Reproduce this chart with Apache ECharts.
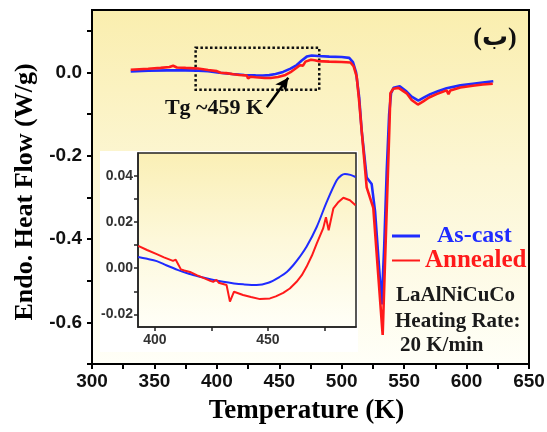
<!DOCTYPE html>
<html><head><meta charset="utf-8">
<script src="https://cdn.jsdelivr.net/npm/echarts@6/dist/echarts.min.js"></script>
<style>html,body{margin:0;padding:0;background:#fff}#c{width:547px;height:432px}</style>
</head><body><div id="c"></div>
<script>
// ---------- main DSC curves (Temperature K, heat flow W/g) ----------
const tempAsCast = [331,345,360,375,385,393,402,412,422,431,437,442,447,453,459,464,468,472,476,481,490,500,506,509,511.5,514,516,520,524,526.7,529.5,532,534,536,538,539.5,541.5,546.5,552,556,561.4,566,571,577,584,595,605,613,621.4];
const heatAsCast = [0.0025,0.004,0.005,0.005,0.0045,0.003,-0.0008,-0.0037,-0.0059,-0.0070,-0.0073,-0.0063,-0.0037,0.0013,0.0093,0.0179,0.0287,0.0381,0.0409,0.0396,0.038,0.037,0.035,0.025,0.0,-0.06,-0.14,-0.252,-0.268,-0.333,-0.45,-0.557,-0.42,-0.24,-0.1,-0.05,-0.037,-0.033,-0.046,-0.058,-0.0675,-0.060,-0.052,-0.045,-0.038,-0.031,-0.027,-0.024,-0.021];
const tempAnnealed = [331,345,355,362,365,368,375,385,393,400,401,403,407.5,413.4,418,424,425,427,431,438.5,443,449,455,459,463.6,466.5,467.7,469,471,475.4,478.3,481,490,500,507,509.5,512,514,516,520,525.3,532.8,535.5,538.1,539,541.3,545.5,552,556,561,565,570,576,584,585.5,587,595,605,613,621];
const heatAnnealed = [0.0065,0.009,0.011,0.013,0.016,0.012,0.011,0.0097,0.0061,0.0032,0.0037,-0.0005,-0.0016,-0.0042,-0.0059,-0.0073,-0.0145,-0.0102,-0.0116,-0.0134,-0.0131,-0.0107,-0.0059,0.0006,0.0107,0.0174,0.0221,0.0165,0.026,0.0306,0.0295,0.0273,0.026,0.025,0.024,0.015,-0.01,-0.07,-0.14,-0.276,-0.325,-0.63,-0.38,-0.14,-0.05,-0.039,-0.037,-0.05,-0.066,-0.077,-0.07,-0.06,-0.052,-0.043,-0.052,-0.043,-0.036,-0.032,-0.029,-0.027];

// ---------- inset (glass transition region) ----------
const insetTempAsCast = [392.6,396,400.8,405,410.3,415,419.9,425,430.2,435,439.1,445,450.2,455.3,458.5,461.2,464,467.1,471.6,476,480.4,482.5,484.1,486.5,488.8];
const insetHeatAsCast = [0.0049,0.0042,0.0031,0.0013,-0.0008,-0.0024,-0.0037,-0.0049,-0.0059,-0.0066,-0.0070,-0.0073,-0.0063,-0.0037,-0.0015,0.0013,0.0048,0.0093,0.0179,0.0287,0.0381,0.0403,0.0409,0.0405,0.0396];
const insetTempAnnealed = [392.6,396.5,400.8,404,408,409.2,411.5,413,415.5,418.5,421.4,424.5,425.8,427.2,428.2,431.7,433.2,435,439,442.5,446.5,450.9,453.5,456.8,459.7,462.7,465,467.1,469.5,471.6,474.5,475.7,476.9,479,481,483.4,486.3,488.8];
const insetHeatAnnealed = [0.0097,0.0079,0.0061,0.0047,0.0032,0.0037,-0.0005,-0.0010,-0.0016,-0.0030,-0.0042,-0.0055,-0.0059,-0.0050,-0.0063,-0.0073,-0.0145,-0.0102,-0.0116,-0.0125,-0.0134,-0.0131,-0.0122,-0.0107,-0.0088,-0.0059,-0.0030,0.0006,0.0055,0.0107,0.0174,0.0221,0.0165,0.026,0.0285,0.0306,0.0295,0.0273];

// ---------- axes ticks / labels ----------
const mainXTicks = [300,325,350,375,400,425,450,475,500,525,550,575,600,625,650];
const mainXLabels = [300,350,400,450,500,550,600,650];
const mainYTicks = [-0.7,-0.6,-0.5,-0.4,-0.3,-0.2,-0.1,0,0.1];
const mainYLabels = [-0.6,-0.4,-0.2,0];
const insetXTicks = [400,425,450,475];
const insetXLabels = [400,450];
const insetYTicks = [-0.02,-0.01,0,0.01,0.02,0.03,0.04];
const insetYLabels = [-0.02,0,0.02,0.04];

// ---------- annotations (data units) ----------
const zoomBoxStart = [383, 0.0595];
const zoomBoxEnd = [482, -0.0417];
const arrowFrom = [440, -0.0836];
const arrowTo = [457.2, -0.0128];

const BLUE = '#1F2BFF', RED = '#FF1A1A';
const zip = (a, b) => a.map((x, i) => [x, b[i]]);
const serif = 'Liberation Serif, Times New Roman, serif';
const sans = 'Liberation Sans, Arial, sans-serif';

const chart = echarts.init(document.getElementById('c'));
const mainLabel = {fontSize: 19, fontWeight: 'bold', fontFamily: sans, color: '#111'};
const insetLabel = {fontSize: 14, fontWeight: 'bold', fontFamily: sans, color: '#333'};

chart.setOption({
  animation: false,
  backgroundColor: '#fff',
  grid: [
    {left: 92, right: 18, top: 10, bottom: 68, show: true, z: 0,
     borderColor: '#000', borderWidth: 2, outerBoundsMode: 'none',
     backgroundColor: {type: 'linear', x: 0, y: 0, x2: 0, y2: 1,
       colorStops: [{offset: 0, color: '#FAEEAE'}, {offset: 0.45, color: '#FCF6D3'}, {offset: 1, color: '#FFFFF8'}]}},
    {left: 138, top: 153, width: 218, height: 174, show: true, z: 2,
     borderColor: '#222', borderWidth: 1.5, outerBoundsMode: 'none',
     backgroundColor: {type: 'linear', x: 0, y: 0, x2: 0, y2: 1,
       colorStops: [{offset: 0, color: '#FAEFB5'}, {offset: 0.5, color: '#FDF8DA'}, {offset: 1, color: '#FFFFF8'}]}}
  ],
  xAxis: [
    {gridIndex: 0, type: 'value', min: 300, max: 650, interval: 25, z: 3,
     axisLine: {show: true, onZero: false, lineStyle: {color: '#000', width: 2}},
     axisTick: {show: true, length: 5, customValues: mainXTicks, lineStyle: {color: '#000', width: 2}},
     axisLabel: Object.assign({customValues: mainXLabels, margin: 8,
       formatter: v => (v % 50 === 0 ? String(v) : '')}, mainLabel),
     splitLine: {show: false},
     name: 'Temperature (K)', nameLocation: 'middle', nameGap: 34,
     nameTextStyle: {fontFamily: serif, fontWeight: 'bold', fontSize: 27, color: '#000', padding: [0, 8, 0, 0]}},
    {gridIndex: 1, type: 'value', min: 392.5, max: 489, z: 4,
     axisLine: {show: true, onZero: false, lineStyle: {color: '#222', width: 1.5}},
     axisTick: {show: true, length: 4, customValues: insetXTicks, lineStyle: {color: '#222', width: 1.5}},
     axisLabel: Object.assign({customValues: insetXLabels, margin: 6}, insetLabel),
     splitLine: {show: false}}
  ],
  yAxis: [
    {gridIndex: 0, type: 'value', min: -0.7, max: 0.15, z: 3,
     axisLine: {show: true, onZero: false, lineStyle: {color: '#000', width: 2}},
     axisTick: {show: true, length: 5, customValues: mainYTicks, lineStyle: {color: '#000', width: 2}},
     axisLabel: Object.assign({customValues: mainYLabels, margin: 10,
       formatter: v => Number(v).toFixed(1)}, mainLabel),
     splitLine: {show: false},
     name: 'Endo. Heat Flow (W/g)', nameLocation: 'middle', nameGap: 54,
     nameTextStyle: {fontFamily: serif, fontWeight: 'bold', fontSize: 26, color: '#000', padding: [0, 10, 0, 0]}},
    {gridIndex: 1, type: 'value', min: -0.0255, max: 0.05, z: 4,
     axisLine: {show: true, onZero: false, lineStyle: {color: '#222', width: 1.5}},
     axisTick: {show: true, length: 4, customValues: insetYTicks, lineStyle: {color: '#222', width: 1.5}},
     axisLabel: Object.assign({customValues: insetYLabels, margin: 5,
       formatter: v => Number(v).toFixed(2)}, insetLabel),
     splitLine: {show: false}}
  ],
  legend: [
    {data: [{name: 'As-cast', textStyle: {color: BLUE}}], left: 392, top: 224, padding: 0,
     icon: 'rect', itemWidth: 28, itemHeight: 3,
     textStyle: {fontFamily: serif, fontWeight: 'bold', fontSize: 24, padding: [0, 0, 0, 12]}},
    {data: [{name: 'Annealed', textStyle: {color: RED}}], left: 392, top: 248, padding: 0,
     icon: 'rect', itemWidth: 28, itemHeight: 2,
     textStyle: {fontFamily: serif, fontWeight: 'bold', fontSize: 25}}
  ],
  graphic: [
    {type: 'rect', z: 1, shape: {x: 100, y: 151, width: 258, height: 201}, style: {fill: '#ffffff'}},
    {type: 'text', z: 10, x: 495, y: 38, style: {text: '(ب)', fontSize: 26, fontWeight: 'bold',
      fontFamily: 'Liberation Serif, DejaVu Sans, serif', fill: '#111', align: 'center', verticalAlign: 'middle'}},
    {type: 'text', z: 10, x: 214, y: 108, style: {text: 'Tg ~459 K', fontSize: 22, fontWeight: 'bold',
      fontFamily: serif, fill: '#111', align: 'center', verticalAlign: 'middle'}},
    {type: 'text', z: 10, x: 396, y: 296, style: {text: 'LaAlNiCuCo', fontSize: 21, fontWeight: 'bold',
      fontFamily: serif, fill: '#1a1a1a', align: 'left', verticalAlign: 'middle'}},
    {type: 'text', z: 10, x: 395, y: 322, style: {text: 'Heating Rate:', fontSize: 21, fontWeight: 'bold',
      fontFamily: serif, fill: '#1a1a1a', align: 'left', verticalAlign: 'middle'}},
    {type: 'text', z: 10, x: 400, y: 346, style: {text: '20 K/min', fontSize: 21, fontWeight: 'bold',
      fontFamily: serif, fill: '#1a1a1a', align: 'left', verticalAlign: 'middle'}}
  ],
  series: [
    {name: 'As-cast', type: 'line', xAxisIndex: 0, yAxisIndex: 0, z: 3, showSymbol: false, symbol: 'none',
     data: zip(tempAsCast, heatAsCast), lineStyle: {color: BLUE, width: 2.6}, itemStyle: {color: BLUE}},
    {name: 'Annealed', type: 'line', xAxisIndex: 0, yAxisIndex: 0, z: 3, showSymbol: false, symbol: 'none',
     data: zip(tempAnnealed, heatAnnealed), lineStyle: {color: RED, width: 2.6}, itemStyle: {color: RED},
     markArea: {silent: true, label: {show: false},
       itemStyle: {color: 'rgba(0,0,0,0)', borderColor: '#111', borderWidth: 2.5, borderType: [2.5, 2.3]},
       data: [[{coord: zoomBoxStart}, {coord: zoomBoxEnd}]]},
     markLine: {silent: true, symbol: ['none', 'arrow'], symbolSize: [10, 13], label: {show: false},
       lineStyle: {color: '#000', width: 2.5, type: 'solid'},
       data: [[{coord: arrowFrom}, {coord: arrowTo}]]}},
    {name: 'As-cast inset', type: 'line', xAxisIndex: 1, yAxisIndex: 1, z: 5, showSymbol: false, symbol: 'none',
     smooth: 0.3, data: zip(insetTempAsCast, insetHeatAsCast), lineStyle: {color: BLUE, width: 2}, itemStyle: {color: BLUE}},
    {name: 'Annealed inset', type: 'line', xAxisIndex: 1, yAxisIndex: 1, z: 5, showSymbol: false, symbol: 'none',
     data: zip(insetTempAnnealed, insetHeatAnnealed), lineStyle: {color: RED, width: 2}, itemStyle: {color: RED}}
  ]
});
</script>
</body></html>
